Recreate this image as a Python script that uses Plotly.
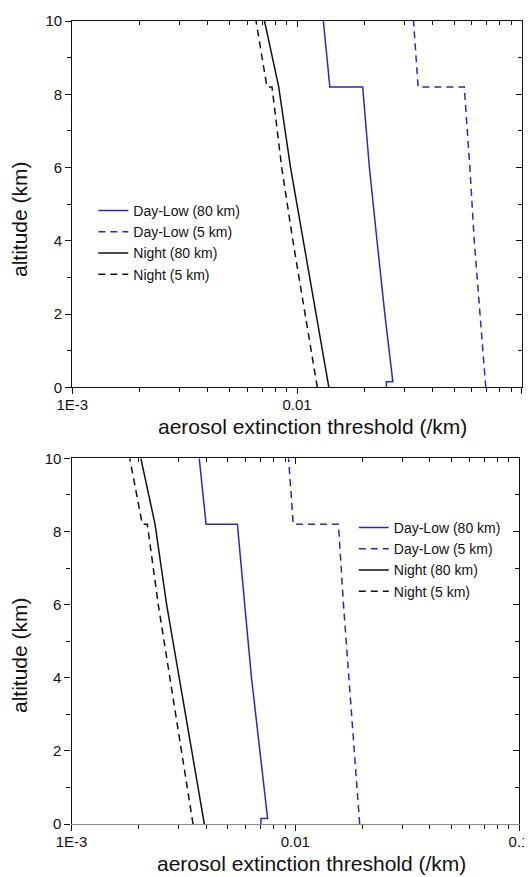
import plotly.graph_objects as go

# ---------------- data ----------------
SERIES_NAMES = ["Day-Low (80 km)", "Day-Low (5 km)", "Night (80 km)", "Night (5 km)"]

# top panel
TOP_DAY80_ALT = [0, 0.15, 0.15, 2, 4, 6, 8.2, 8.2, 10]
TOP_DAY80_EXT = [0.0250, 0.0250, 0.0267, 0.0246, 0.0227, 0.0210, 0.0196, 0.0140, 0.0131]
TOP_DAY5_ALT = [0, 2, 4, 6, 8.2, 8.2, 10]
TOP_DAY5_EXT = [0.0692, 0.0653, 0.0615, 0.0588, 0.0555, 0.0346, 0.0330]
TOP_NIGHT80_ALT = [0, 2, 4, 6, 8.2, 10]
TOP_NIGHT80_EXT = [0.01386, 0.01214, 0.01068, 0.00936, 0.00829, 0.00717]
TOP_NIGHT5_ALT = [0, 2, 4, 6, 8.2, 8.2, 10]
TOP_NIGHT5_EXT = [0.01231, 0.01087, 0.00959, 0.00855, 0.00774, 0.00735, 0.00657]

# bottom panel
BOT_DAY80_ALT = [0, 0.15, 0.15, 2, 4, 6, 8.2, 8.2, 10]
BOT_DAY80_EXT = [0.00702, 0.00702, 0.00752, 0.00692, 0.00637, 0.00594, 0.00551, 0.00399, 0.00372]
BOT_DAY5_ALT = [0, 2, 4, 6, 8.2, 8.2, 10]
BOT_DAY5_EXT = [0.0194, 0.01835, 0.0173, 0.01642, 0.01559, 0.00979, 0.00933]
BOT_NIGHT80_ALT = [0, 2, 4, 6, 8.2, 10]
BOT_NIGHT80_EXT = [0.00392, 0.00345, 0.00302, 0.00266, 0.00236, 0.00204]
BOT_NIGHT5_ALT = [0, 2, 4, 6, 8.2, 8.2, 10]
BOT_NIGHT5_EXT = [0.00349, 0.00311, 0.00275, 0.00244, 0.00218, 0.00207, 0.00182]

X_TICKVALS = [0.001, 0.01, 0.1]
X_TICKTEXT = ["1E-3", "0.01", "0.1"]
X_MINOR = [m * d for d in (0.001, 0.01) for m in range(2, 10)]
Y_TICKVALS = [0, 2, 4, 6, 8, 10]
Y_MINOR = [1, 3, 5, 7, 9]
X_TITLE = "aerosol extinction threshold (/km)"
Y_TITLE = "altitude (km)"

# ---------------- styling ----------------
# the page body has an 8px margin, so the figure is drawn 8px smaller and
# every pixel position below is expressed in page pixels minus that offset
OFF = 8
PW, PH = 532, 877
W, H = PW - OFF, PH - OFF


def px_x(v):
    return (v - OFF) / W


def px_y(v):
    return 1 - (v - OFF) / H


FONT = "Arial, 'Liberation Sans', Helvetica, sans-serif"
BLUE = "#2a2ab8"
BLACK = "#111111"
DASH = "7px,5px"
LW = 1.5

fig = go.Figure()

panels = [
    dict(sfx="", ov="3", xdom=[px_x(72.3), px_x(521.7)], ydom=[px_y(387.3), px_y(21.0)],
         data=[(TOP_DAY80_EXT, TOP_DAY80_ALT), (TOP_DAY5_EXT, TOP_DAY5_ALT),
               (TOP_NIGHT80_EXT, TOP_NIGHT80_ALT), (TOP_NIGHT5_EXT, TOP_NIGHT5_ALT)],
         legend="legend", xline="#111111"),
    dict(sfx="2", ov="4", xdom=[px_x(71.6), px_x(519.0)], ydom=[px_y(824.0), px_y(458.3)],
         data=[(BOT_DAY80_EXT, BOT_DAY80_ALT), (BOT_DAY5_EXT, BOT_DAY5_ALT),
               (BOT_NIGHT80_EXT, BOT_NIGHT80_ALT), (BOT_NIGHT5_EXT, BOT_NIGHT5_ALT)],
         legend="legend2", xline="#8a8a8a"),
]

styles = [(BLUE, "solid"), (BLUE, DASH), (BLACK, "solid"), (BLACK, DASH)]

layout = dict(
    width=W, height=H, autosize=False,
    margin=dict(l=0, r=0, t=0, b=0, autoexpand=False),
    paper_bgcolor="white", plot_bgcolor="white",
    font=dict(family=FONT, color="#111111"),
    showlegend=True,
)

for p in panels:
    s = p["sfx"]
    xa = "x" + s
    ya = "y" + s
    for (ext, alt), name, (col, dash) in zip(p["data"], SERIES_NAMES, styles):
        fig.add_trace(go.Scatter(
            x=ext, y=alt, mode="lines", name=name,
            line=dict(color=col, width=LW, dash=dash),
            xaxis=xa, yaxis=ya, legend=p["legend"],
        ))
    # empty helper trace for the mirrored (inside-tick) axes
    ov = p["ov"]
    fig.add_trace(go.Scatter(x=[], y=[], xaxis="x" + ov, yaxis="y" + ov,
                             showlegend=False, hoverinfo="skip"))

    common_x = dict(type="log", range=[-3, -1], showgrid=False, zeroline=False, automargin=False)
    common_y = dict(range=[0, 10], showgrid=False, zeroline=False, automargin=False)

    layout["xaxis" + s] = dict(
        **common_x, domain=p["xdom"], anchor=ya,
        showline=True, linecolor=p["xline"], linewidth=1.3,
        ticks="outside", ticklen=6, tickwidth=1.1, tickcolor="#111111",
        tickvals=X_TICKVALS, ticktext=X_TICKTEXT, ticklabelstandoff=-2,
        tickfont=dict(size=15, family=FONT, color="#111111"),
        minor=dict(tickvals=X_MINOR, ticks="outside", ticklen=4, tickwidth=1, tickcolor="#111111"),
    )
    layout["yaxis" + s] = dict(
        **common_y, domain=p["ydom"], anchor=xa,
        showline=True, linecolor="#111111", linewidth=1.3,
        ticks="outside", ticklen=6, tickwidth=1.1, tickcolor="#111111",
        tickvals=Y_TICKVALS,
        tickfont=dict(size=15, family=FONT, color="#111111"),
        minor=dict(tickvals=Y_MINOR, ticks="outside", ticklen=4, tickwidth=1, tickcolor="#111111"),
    )
    layout["xaxis" + ov] = dict(
        **common_x, overlaying=xa, side="top", anchor="y" + ov,
        showline=True, linecolor="#111111", linewidth=1.3,
        ticks="inside", ticklen=6, tickwidth=1.1, tickcolor="#111111",
        tickvals=X_TICKVALS, showticklabels=False,
        minor=dict(tickvals=X_MINOR, ticks="inside", ticklen=4, tickwidth=1, tickcolor="#111111"),
    )
    layout["yaxis" + ov] = dict(
        **common_y, overlaying=ya, side="right", anchor="x" + ov,
        showline=True, linecolor="#111111", linewidth=1.3,
        ticks="inside", ticklen=6, tickwidth=1.1, tickcolor="#111111",
        tickvals=Y_TICKVALS, showticklabels=False,
        minor=dict(tickvals=Y_MINOR, ticks="inside", ticklen=4, tickwidth=1, tickcolor="#111111"),
    )

legend_common = dict(
    bgcolor="rgba(0,0,0,0)", borderwidth=0,
    font=dict(size=14, family=FONT, color="#111111"),
    tracegroupgap=0, itemwidth=30,
    xanchor="left", yanchor="top",
)
layout["legend"] = dict(**legend_common, x=px_x(93.3), y=px_y(195))
layout["legend2"] = dict(**legend_common, x=px_x(353.8), y=px_y(512))

# axis titles
anns = []
for cx, cy in [(312, 426), (311, 863)]:
    anns.append(dict(text=X_TITLE, x=px_x(cx), y=px_y(cy), xref="paper", yref="paper",
                     showarrow=False, xanchor="center", yanchor="middle",
                     font=dict(size=21, family=FONT, color="#111111")))
for cx, cy in [(19, 219), (19, 655)]:
    anns.append(dict(text=Y_TITLE, x=px_x(cx), y=px_y(cy), xref="paper", yref="paper",
                     showarrow=False, xanchor="center", yanchor="middle", textangle=-90,
                     font=dict(size=21, family=FONT, color="#111111")))
layout["annotations"] = anns

fig.update_layout(**layout)
fig.write_html("out.html")
